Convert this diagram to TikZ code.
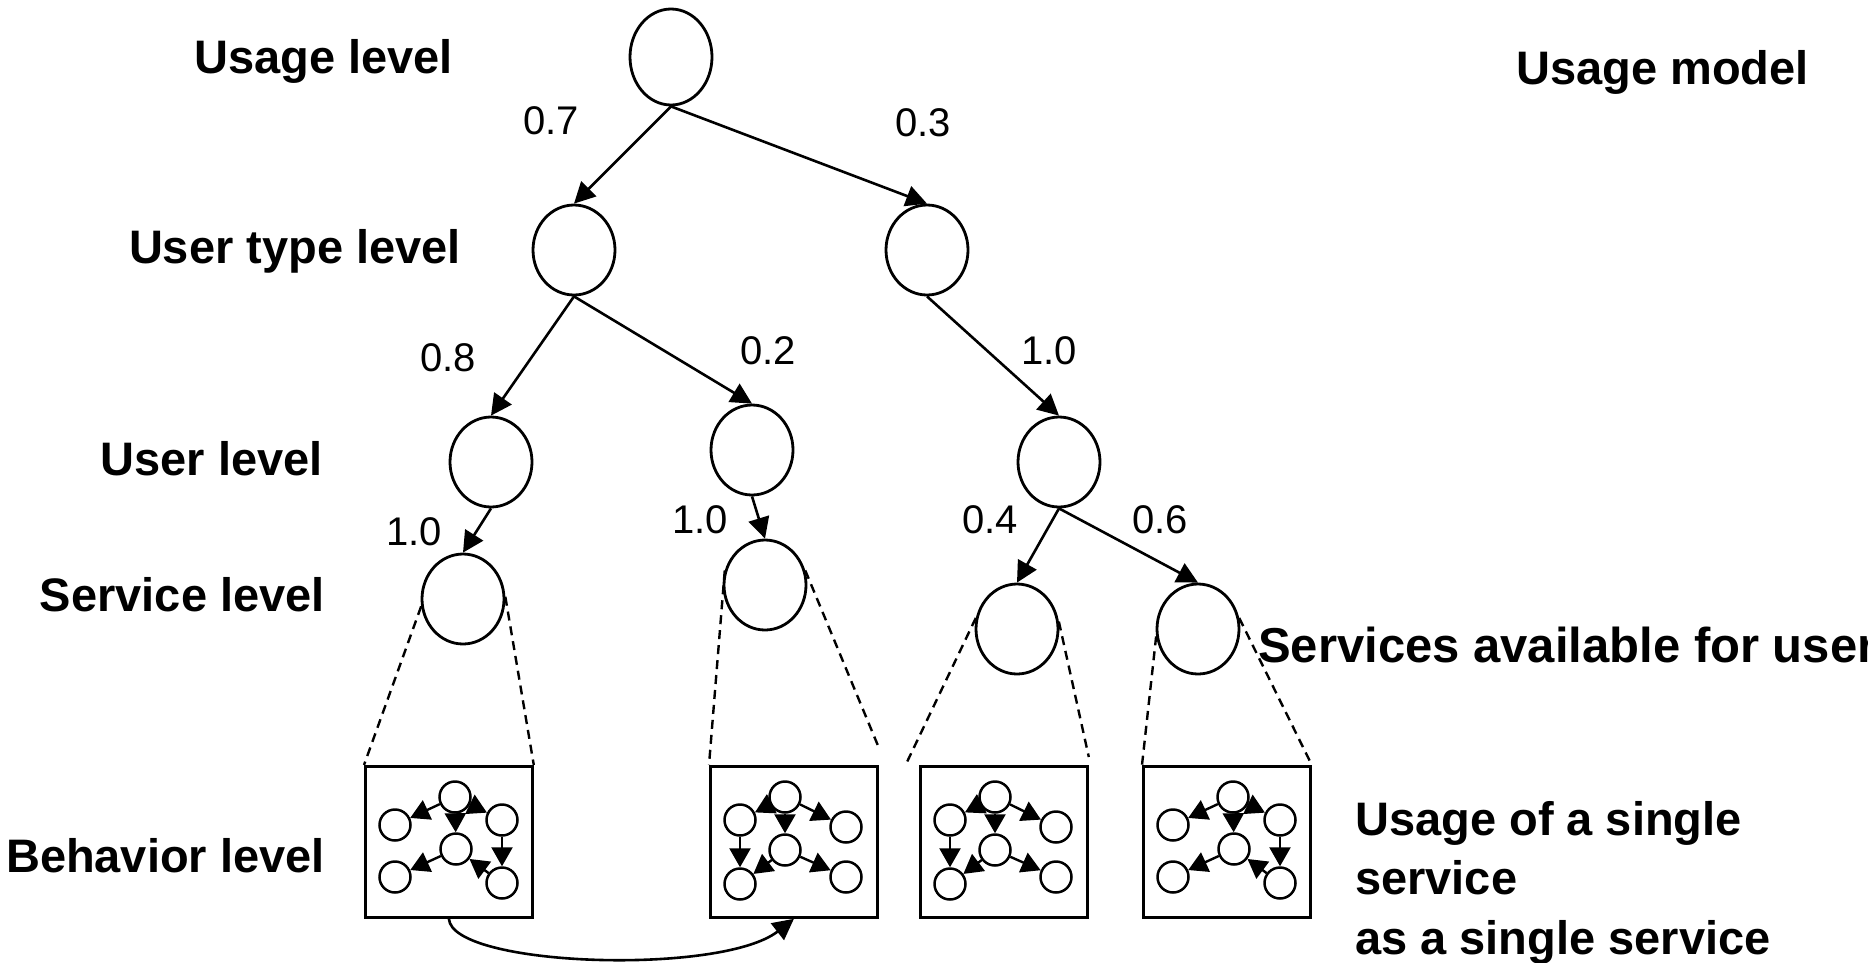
\documentclass[tikz,border=0pt]{standalone}
\usepackage{fontspec}
\setmainfont{Liberation Sans}
\usetikzlibrary{shapes.geometric,arrows.meta,calc}

\newcommand{\mgA}[1]{%
 \node[mini] (#1t)  at ($(#1.north west)+(91,32)$) {};
 \node[mini] (#1lu) at ($(#1.north west)+(31,60)$) {};
 \node[mini] (#1ru) at ($(#1.north west)+(138,55)$) {};
 \node[mini] (#1m)  at ($(#1.north west)+(92,84)$) {};
 \node[mini] (#1ll) at ($(#1.north west)+(31,112)$) {};
 \node[mini] (#1rl) at ($(#1.north west)+(138,118)$) {};
 \draw[marr] (#1t) -- (#1lu);
 \draw[marr] (#1t) -- (#1ru);
 \draw[marr] (#1t) -- (#1m);
 \draw[marr] (#1ru) -- (#1rl);
 \draw[marr] (#1rl) -- (#1m);
 \draw[marr] (#1m) -- (#1ll);
}
\newcommand{\mgB}[1]{%
 \node[mini] (#1t)  at ($(#1.north west)+(76,32)$) {};
 \node[mini] (#1lu) at ($(#1.north west)+(31,55)$) {};
 \node[mini] (#1ru) at ($(#1.north west)+(137,62)$) {};
 \node[mini] (#1m)  at ($(#1.north west)+(76,85)$) {};
 \node[mini] (#1ll) at ($(#1.north west)+(31,119)$) {};
 \node[mini] (#1rl) at ($(#1.north west)+(137,112)$) {};
 \draw[marr] (#1t) -- (#1lu);
 \draw[marr] (#1t) -- (#1ru);
 \draw[marr] (#1t) -- (#1m);
 \draw[marr] (#1lu) -- (#1ll);
 \draw[marr] (#1m) -- (#1ll);
 \draw[marr] (#1m) -- (#1rl);
}

\begin{document}
\begin{tikzpicture}[x=1pt,y=-1pt,
  tn/.style={ellipse,draw,line width=2.8pt,minimum width=82pt,minimum height=90pt,inner sep=0pt},
  arr/.style={line width=2.6pt,-{Triangle[length=21pt,width=21pt]}},
  mini/.style={circle,draw,line width=2.5pt,minimum size=31pt,inner sep=0pt},
  marr/.style={line width=2.4pt,-{Triangle[length=19pt,width=21pt]}},
  box/.style={draw,line width=2.8pt,minimum width=167pt,minimum height=151pt,anchor=north west,inner sep=0pt},
  dsh/.style={line width=2.4pt,dash pattern=on 9pt off 6pt},
  lbl/.style={font=\fontsize{47}{59.5}\selectfont\bfseries,inner sep=0pt},
  num/.style={font=\fontsize{40}{48}\selectfont,inner sep=0pt}]
\useasboundingbox[fill=white] (0,0) rectangle (1868,962);

% tree nodes
\node[tn,minimum height=96pt] (root) at (671,57) {};
\node[tn] (ut1) at (574,250) {};
\node[tn] (ut2) at (927,250) {};
\node[tn] (u1) at (491,462) {};
\node[tn] (u2) at (752,450) {};
\node[tn] (u3) at (1059,462) {};
\node[tn] (s1) at (463,599) {};
\node[tn] (s2) at (765,585) {};
\node[tn] (s3) at (1017,629) {};
\node[tn] (s4) at (1198,629) {};

% tree arrows
\draw[arr] (root.south) -- (ut1.north);
\draw[arr] (root.south) -- (ut2.north);
\draw[arr] (ut1.south) -- (u1.north);
\draw[arr] (ut1.south) -- (u2.north);
\draw[arr] (ut2.south) -- (u3.north);
\draw[arr] (u1.south) -- (s1.north);
\draw[arr] (u2.south) -- (s2.north);
\draw[arr] (u3.south) -- (s3.north);
\draw[arr] (u3.south) -- (s4.north);

% probabilities
\node[num] (p1) at (551,121) {0.7};
\node[num] (p2) at (923,123) {0.3};
\node[num] (p3) at (448,358) {0.8};
\node[num] (p4) at (768,351) {0.2};
\node[num] (p5) at (1049,351) {1.0};
\node[num] (p6) at (414,532) {1.0};
\node[num] (p7) at (700,520) {1.0};
\node[num] (p8) at (990,520) {0.4};
\node[num] (p9) at (1160,520) {0.6};

% behaviour boxes
\node[box] (b1) at (364,765) {};
\node[box] (b2) at (709,765) {};
\node[box] (b3) at (919,765) {};
\node[box] (b4) at (1142,765) {};
\mgA{b1}
\mgB{b2}
\mgB{b3}
\mgA{b4}

% dashed projections
\coordinate (b2e) at ($(b2.north east)+(1,-15)$);
\coordinate (b3w) at ($(b3.north west)+(-12,-3)$);
\coordinate (b3e) at ($(b3.north east)+(0,-8)$);
\draw[dsh] (s1.190) -- (b1.north west);
\draw[dsh] (s1.3) -- (b1.north east);
\draw[dsh] (s2.160) -- (b2.north west);
\draw[dsh] (s2.20) -- (b2e);
\draw[dsh] (s3.165) -- (b3w);
\draw[dsh] (s3.10) -- (b3e);
\draw[dsh] (s4.190) -- (b4.north west);
\draw[dsh] (s4.15) -- (b4.north east);

% curved arrow
\draw[arr] (b1.south) .. controls ($(b1.south)+(3,48)$) and ($(b2.south)+(-73,57)$) .. (b2.south);

% labels
\node[lbl,anchor=base east] (l1) at (453,73) {Usage level};
\node[lbl,anchor=base east] (l2) at (461,263) {User type level};
\node[lbl,anchor=base east] (l3) at (323,475) {User level};
\node[lbl,anchor=base east] (l4) at (325,611) {Service level};
\node[lbl,anchor=base east] (l5) at (325,872) {Behavior level};
\node[lbl,anchor=base west] (l6) at (1516,84) {Usage model};
\node[lbl,anchor=base west,font=\fontsize{49}{58}\selectfont\bfseries] (l7) at (1258,662) {Services available for user};
\node[lbl,anchor=north west,align=left] (l8) at (1355,801) {Usage of a single\\service\\as a single service};
\end{tikzpicture}
\end{document}
